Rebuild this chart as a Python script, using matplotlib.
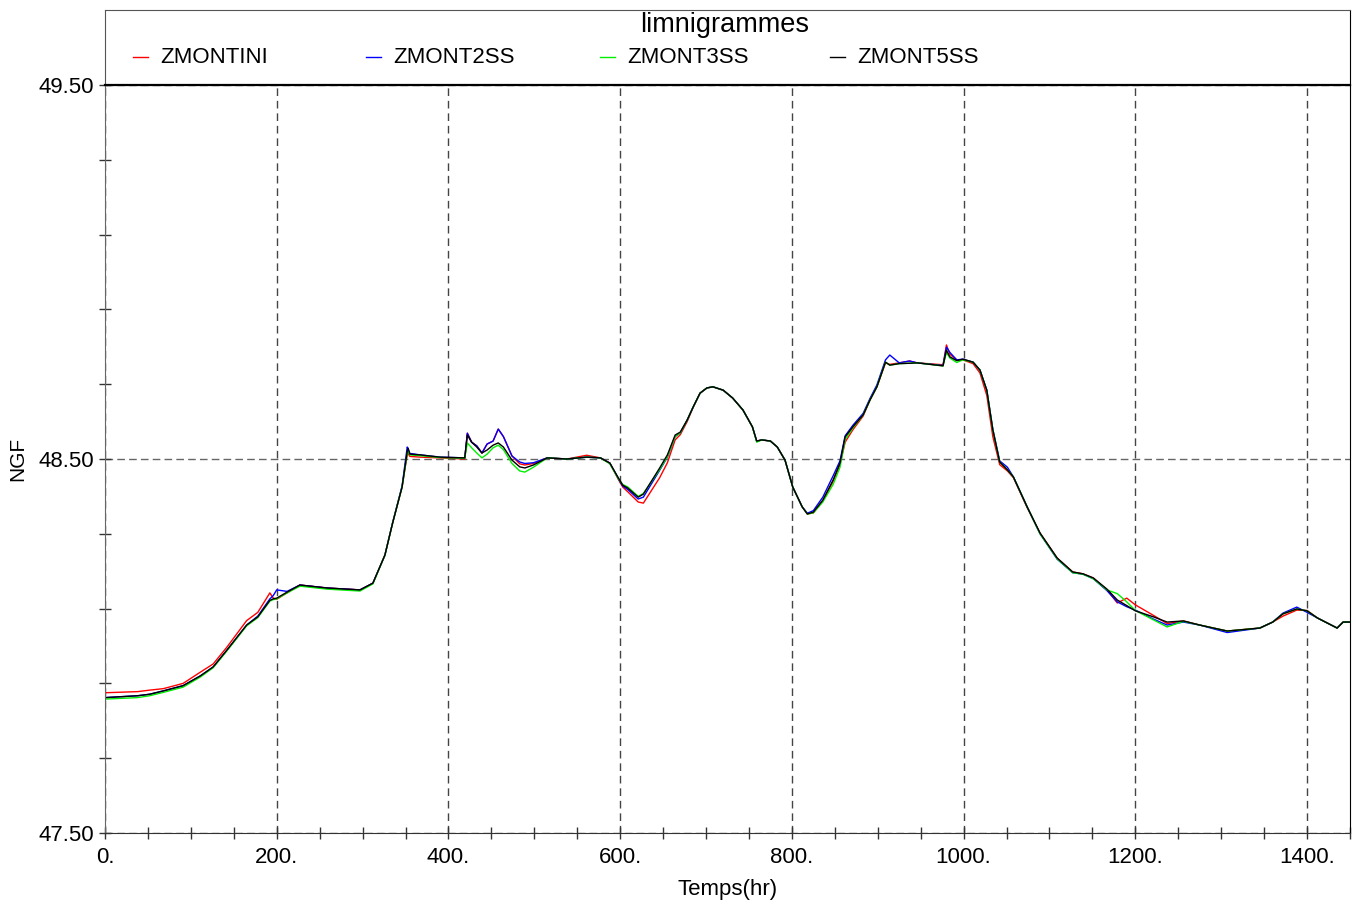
import matplotlib
matplotlib.use("Agg")
import matplotlib.pyplot as plt
from matplotlib.ticker import FixedLocator, FormatStrFormatter, FuncFormatter, MultipleLocator

plt.rcParams['font.family'] = ['Liberation Sans', 'DejaVu Sans']

# time (hr)
temps = [0, 38, 52, 68, 91, 111, 126, 142, 165, 178,
         192, 196, 200, 212, 227, 259, 297, 312, 326, 335,
         346, 352, 353, 355, 367, 390, 419, 422, 427, 433,
         439, 445, 452, 458, 464, 474, 483, 489, 499, 515,
         538, 561, 577, 588, 598, 603, 609, 621, 627, 646,
         655, 664, 670, 678, 685, 693, 701, 708, 720, 731,
         743, 754, 759, 765, 775, 783, 792, 801, 812, 818,
         825, 836, 848, 856, 862, 871, 883, 891, 899, 909,
         914, 925, 937, 946, 976, 980, 984, 992, 999, 1011,
         1019, 1027, 1034, 1042, 1051, 1058, 1074, 1089, 1109, 1127,
         1139, 1151, 1167, 1179, 1190, 1200, 1221, 1237, 1256, 1275,
         1307, 1345, 1360, 1372, 1388, 1400, 1412, 1435, 1442, 1450]

zmontini = [47.875, 47.878, 47.882, 47.886, 47.900, 47.930, 47.952, 47.997, 48.068, 48.090,
            48.142, 48.128, 48.125, 48.142, 48.163, 48.155, 48.150, 48.168, 48.243, 48.329,
            48.425, 48.512, 48.515, 48.507, 48.505, 48.503, 48.500, 48.569, 48.545, 48.535,
            48.516, 48.540, 48.548, 48.580, 48.560, 48.508, 48.487, 48.484, 48.488, 48.503,
            48.500, 48.510, 48.503, 48.489, 48.445, 48.425, 48.412, 48.385, 48.382, 48.450,
            48.490, 48.551, 48.565, 48.600, 48.638, 48.676, 48.690, 48.693, 48.684, 48.663,
            48.631, 48.586, 48.548, 48.551, 48.548, 48.532, 48.497, 48.425, 48.372, 48.353,
            48.356, 48.388, 48.440, 48.485, 48.545, 48.578, 48.615, 48.658, 48.693, 48.757,
            48.753, 48.757, 48.762, 48.757, 48.752, 48.805, 48.780, 48.765, 48.765, 48.755,
            48.730, 48.670, 48.560, 48.485, 48.468, 48.450, 48.370, 48.302, 48.235, 48.198,
            48.193, 48.182, 48.150, 48.115, 48.128, 48.110, 48.082, 48.060, 48.067, 48.056,
            48.040, 48.048, 48.064, 48.080, 48.096, 48.095, 48.075, 48.048, 48.064, 48.064]

zmont2ss = [47.862, 47.867, 47.871, 47.880, 47.894, 47.920, 47.944, 47.989, 48.056, 48.080,
            48.126, 48.135, 48.150, 48.146, 48.163, 48.155, 48.150, 48.168, 48.243, 48.330,
            48.428, 48.532, 48.527, 48.515, 48.511, 48.505, 48.503, 48.569, 48.545, 48.535,
            48.516, 48.540, 48.548, 48.580, 48.560, 48.508, 48.492, 48.488, 48.490, 48.503,
            48.500, 48.505, 48.503, 48.489, 48.447, 48.428, 48.418, 48.393, 48.398, 48.470,
            48.505, 48.560, 48.570, 48.604, 48.639, 48.676, 48.690, 48.693, 48.684, 48.663,
            48.631, 48.586, 48.548, 48.551, 48.548, 48.532, 48.497, 48.425, 48.372, 48.355,
            48.362, 48.398, 48.455, 48.495, 48.562, 48.590, 48.622, 48.662, 48.698, 48.765,
            48.778, 48.757, 48.762, 48.757, 48.750, 48.799, 48.785, 48.765, 48.767, 48.759,
            48.738, 48.684, 48.580, 48.495, 48.478, 48.452, 48.372, 48.300, 48.232, 48.196,
            48.192, 48.180, 48.148, 48.118, 48.105, 48.096, 48.072, 48.056, 48.064, 48.056,
            48.036, 48.048, 48.064, 48.088, 48.104, 48.090, 48.075, 48.048, 48.064, 48.064]

zmont3ss = [47.858, 47.862, 47.867, 47.876, 47.890, 47.917, 47.942, 47.987, 48.054, 48.076,
            48.120, 48.124, 48.126, 48.142, 48.160, 48.152, 48.147, 48.166, 48.243, 48.329,
            48.425, 48.515, 48.521, 48.511, 48.509, 48.504, 48.502, 48.543, 48.530, 48.516,
            48.503, 48.513, 48.530, 48.537, 48.525, 48.488, 48.468, 48.465, 48.478, 48.503,
            48.500, 48.505, 48.503, 48.487, 48.447, 48.432, 48.425, 48.400, 48.408, 48.472,
            48.506, 48.560, 48.570, 48.604, 48.639, 48.676, 48.690, 48.693, 48.684, 48.663,
            48.631, 48.586, 48.545, 48.551, 48.548, 48.532, 48.497, 48.425, 48.372, 48.353,
            48.356, 48.385, 48.432, 48.478, 48.552, 48.583, 48.618, 48.658, 48.693, 48.759,
            48.751, 48.755, 48.756, 48.757, 48.749, 48.785, 48.770, 48.758, 48.765, 48.759,
            48.738, 48.684, 48.578, 48.492, 48.471, 48.452, 48.372, 48.300, 48.233, 48.196,
            48.192, 48.180, 48.150, 48.140, 48.118, 48.095, 48.070, 48.051, 48.066, 48.056,
            48.040, 48.048, 48.064, 48.086, 48.099, 48.094, 48.075, 48.048, 48.064, 48.064]

zmont5ss = [47.862, 47.867, 47.871, 47.880, 47.894, 47.920, 47.944, 47.989, 48.056, 48.078,
            48.122, 48.126, 48.128, 48.144, 48.163, 48.155, 48.150, 48.168, 48.243, 48.329,
            48.425, 48.520, 48.529, 48.513, 48.511, 48.505, 48.503, 48.564, 48.545, 48.532,
            48.516, 48.524, 48.537, 48.543, 48.532, 48.497, 48.479, 48.476, 48.484, 48.503,
            48.500, 48.505, 48.503, 48.489, 48.449, 48.430, 48.422, 48.398, 48.406, 48.476,
            48.511, 48.564, 48.572, 48.604, 48.639, 48.676, 48.690, 48.693, 48.684, 48.663,
            48.631, 48.586, 48.548, 48.551, 48.548, 48.532, 48.497, 48.425, 48.372, 48.353,
            48.358, 48.390, 48.444, 48.489, 48.559, 48.586, 48.618, 48.658, 48.693, 48.759,
            48.751, 48.755, 48.756, 48.757, 48.749, 48.791, 48.773, 48.763, 48.767, 48.759,
            48.738, 48.684, 48.578, 48.492, 48.471, 48.452, 48.372, 48.302, 48.235, 48.198,
            48.193, 48.182, 48.152, 48.123, 48.108, 48.094, 48.078, 48.064, 48.067, 48.056,
            48.040, 48.048, 48.064, 48.086, 48.099, 48.094, 48.075, 48.048, 48.064, 48.064]

y_major = [47.5, 48.5, 49.5]
y_minor = [47.7, 47.9, 48.1, 48.3, 48.7, 48.9, 49.1, 49.3]

series = [('ZMONTINI', zmontini, '#ff0000'),
          ('ZMONT2SS', zmont2ss, '#0000ff'),
          ('ZMONT3SS', zmont3ss, '#00ee00'),
          ('ZMONT5SS', zmont5ss, '#000000')]

W, H = 1356, 907
fig = plt.figure(figsize=(W / 100, H / 100), dpi=100)

# header box with title and legend (drawn first so the plot's top line sits over it)
hx = fig.add_axes([105 / W, 1 - 85 / H, (1350 - 105) / W, (85 - 10) / H])
hx.set_xlim(0, 1)
hx.set_ylim(0, 1)
hx.set_xticks([])
hx.set_yticks([])
for s in hx.spines.values():
    s.set_color('#555555')
hx.spines['bottom'].set_visible(False)
hx.spines['right'].set_color('black')
hx.text(0.4976, 0.80, 'limnigrammes', ha='center', va='center', fontsize=19.5)
leg_x = [0.0225, 0.2096, 0.3976, 0.5823]
for (name, z, col), lx in zip(series, leg_x):
    hx.plot([lx, lx + 0.012], [0.373, 0.373], color=col, lw=1.0)
    hx.text(lx + 0.0217, 0.373, name, ha='left', va='center', fontsize=16)

ax = fig.add_axes([105 / W, 1 - 833 / H, (1350 - 105) / W, (833 - 85) / H])

for name, z, col in series:
    ax.plot(temps, z, color=col, lw=1.0)

ax.set_xlim(0, 1450)
ax.set_ylim(47.5, 49.5)
ax.xaxis.set_major_locator(MultipleLocator(200))
ax.xaxis.set_minor_locator(MultipleLocator(50))
ax.xaxis.set_major_formatter(FuncFormatter(lambda v, p: '%d.' % v))
ax.yaxis.set_major_locator(FixedLocator(y_major))
ax.yaxis.set_minor_locator(FixedLocator(y_minor))
ax.yaxis.set_major_formatter(FormatStrFormatter('%.2f'))
ax.tick_params(which='both', direction='inout', length=8, width=1, labelsize=16, color='#333333')
ax.tick_params(axis='x', pad=6)
ax.tick_params(axis='y', pad=4)

ax.grid(True, which='major', axis='x', color='#444444', lw=1.0, linestyle=(0, (5.5, 3.5)))
ax.grid(True, which='major', axis='y', color='#666666', lw=1.0, linestyle=(0, (5.5, 3.0)))

ax.spines['top'].set_color('black')
ax.spines['top'].set_linewidth(1.6)
ax.spines['top'].set_zorder(5)
ax.spines['left'].set_color('#666666')
ax.spines['bottom'].set_color('#333333')
ax.spines['right'].set_color('black')

ax.set_xlabel('Temps(hr)', fontsize=16, labelpad=8)
ax.set_ylabel('NGF', fontsize=15, labelpad=8)

fig.savefig('out.png', dpi=100)
